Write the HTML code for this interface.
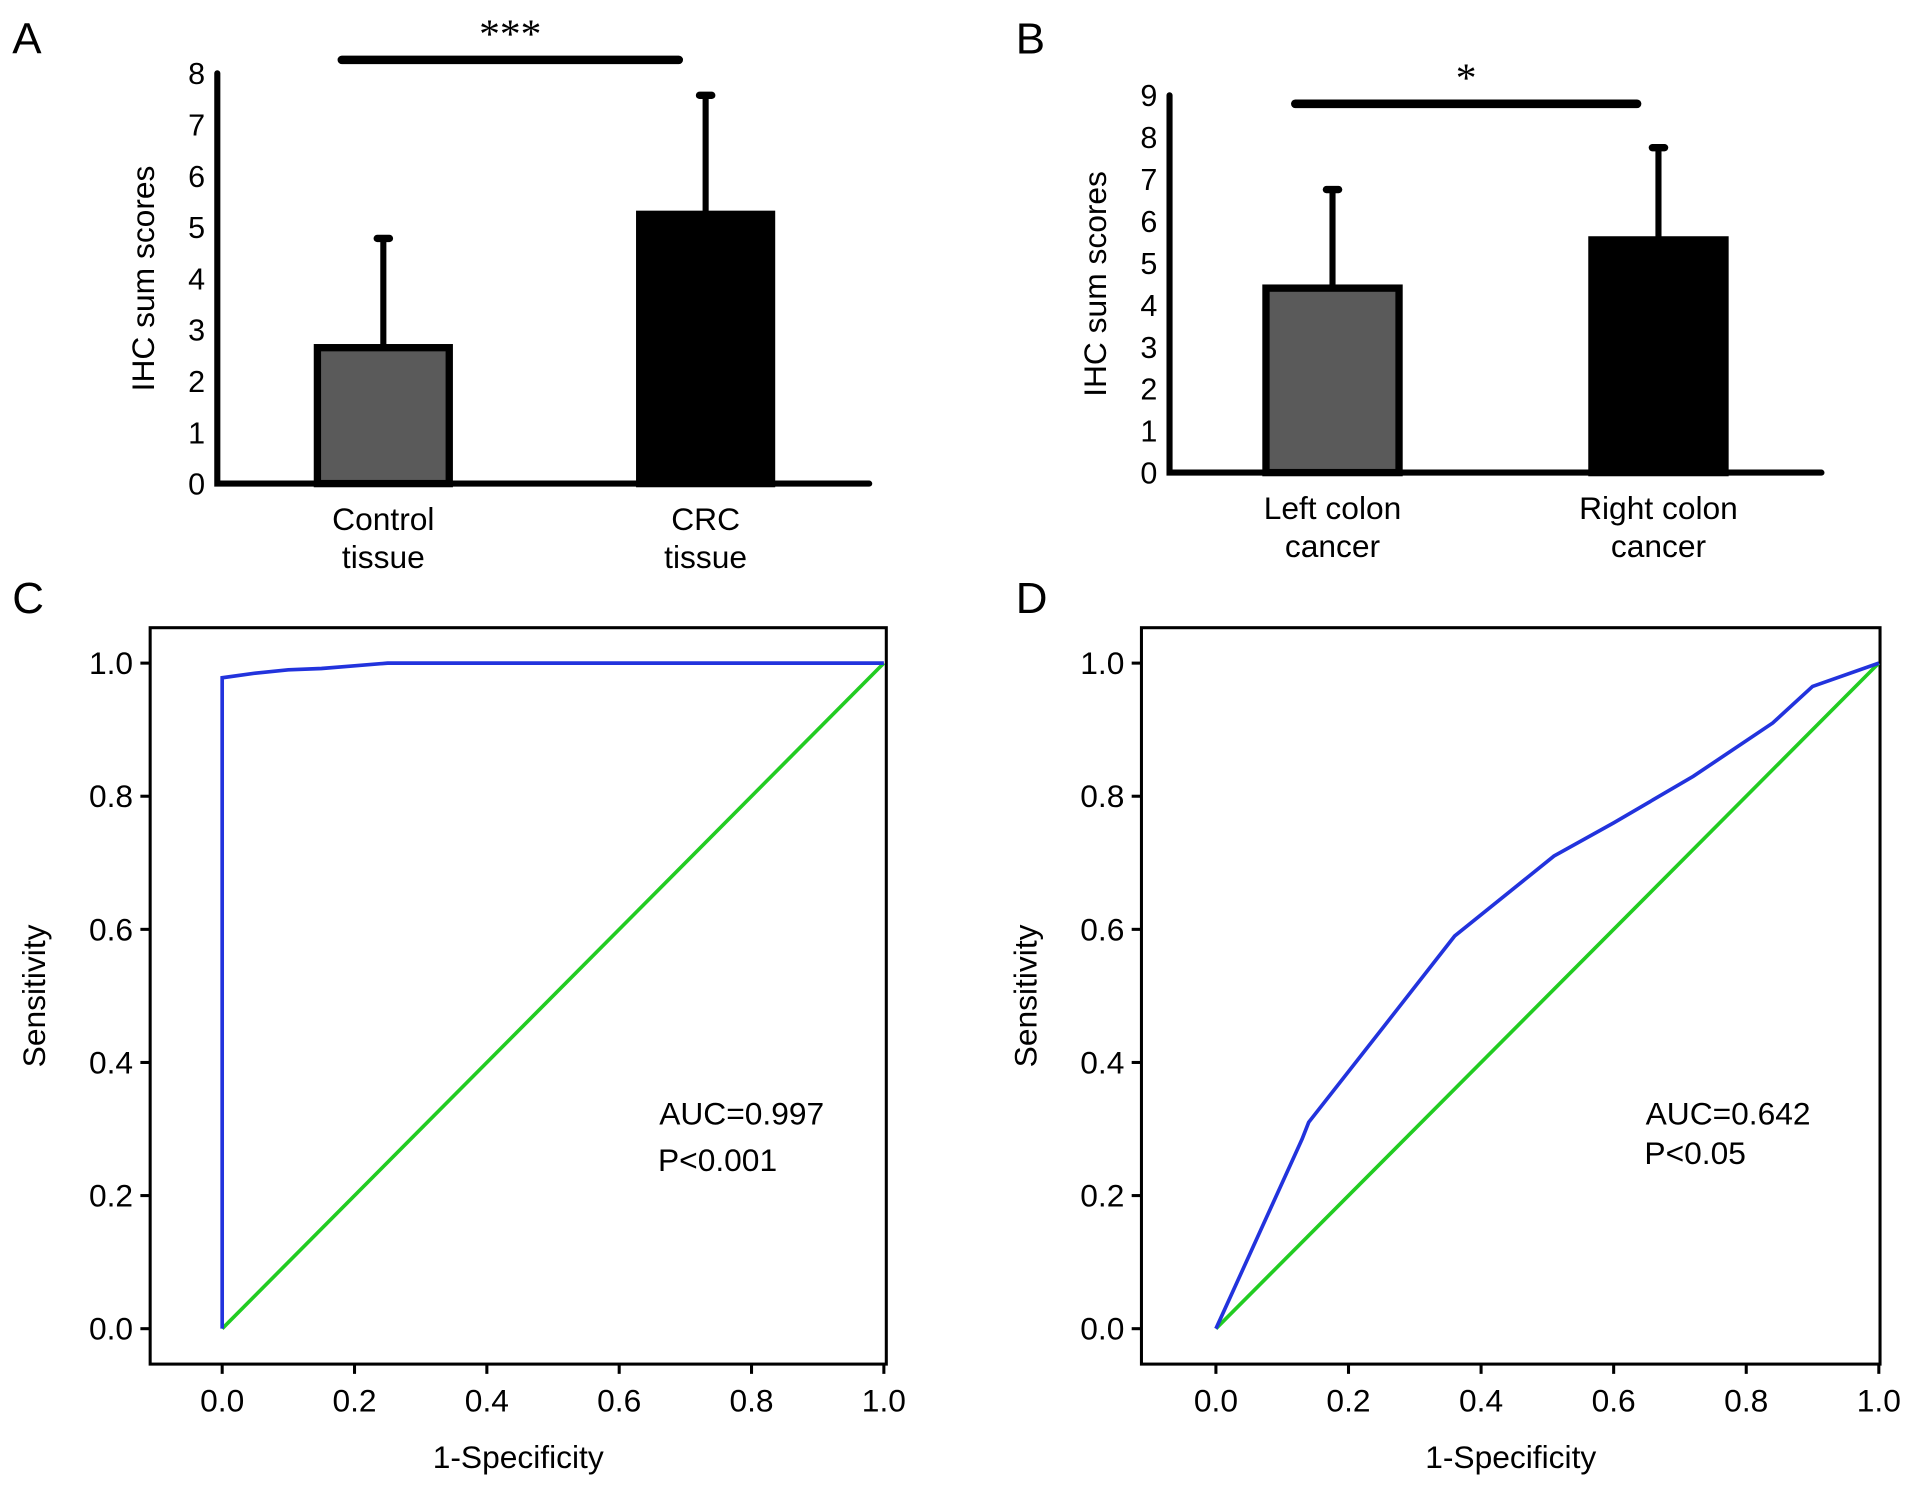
<!DOCTYPE html>
<html><head><meta charset="utf-8"><style>
html,body{margin:0;padding:0;background:#fff;}
svg{display:block;font-family:"Liberation Sans",Arial,sans-serif;}
</style></head><body>
<svg id="fig" width="1913" height="1485" viewBox="0 0 1567 1216" preserveAspectRatio="none" xmlns="http://www.w3.org/2000/svg">
<rect width="1567" height="1216" fill="#fff"/>
<g id="pA"></g>
<g id="pB"></g>
<g id="pC"></g>
<g id="pD"></g>
</svg>
<script>
// Panel A data
const aCats = ["Control|tissue", "CRC|tissue"];
const aMeans = [2.65, 5.25];
const aErr = [2.13, 2.32];
const aTicks = [0,1,2,3,4,5,6,7,8];
// Panel B data
const bCats = ["Left colon|cancer", "Right colon|cancer"];
const bMeans = [4.4, 5.55];
const bErr = [2.35, 2.2];
const bTicks = [0,1,2,3,4,5,6,7,8,9];
// Panel C ROC
const cFpr = [0, 0, 0.05, 0.1, 0.15, 0.2, 0.25, 1];
const cTpr = [0, 0.978, 0.985, 0.99, 0.992, 0.996, 1, 1];
// Panel D ROC
const dFpr = [0, 0.13, 0.14, 0.25, 0.36, 0.51, 0.6, 0.72, 0.84, 0.9, 1];
const dTpr = [0, 0.285, 0.31, 0.45, 0.59, 0.71, 0.76, 0.83, 0.91, 0.965, 1];
const rocTicks = [0, 0.2, 0.4, 0.6, 0.8, 1.0];

const NS = "http://www.w3.org/2000/svg";
function mk(parent, tag, attrs, text){
  const e = document.createElementNS(NS, tag);
  for (const k in attrs) e.setAttribute(k, attrs[k]);
  if (text !== undefined) e.textContent = text;
  parent.appendChild(e);
  return e;
}

function barPanel(g, o){
  const y = v => o.y0 - (v / o.max) * (o.y0 - o.yTop);
  let t = mk(g,"text",{x:o.lx,y:o.ly,"font-size":36});
  t.textContent = o.letter;
  
  
  o.ticks.forEach(v=>{
    const tl = mk(g,"text",{x:o.ax-10,y:y(v)+9,"font-size":25,"text-anchor":"end"}, String(v));
    
    
  });
  const yt = mk(g,"text",{transform:`translate(${o.ax-52},${(o.y0+o.yTop)/2}) rotate(-90)`,"font-size":26,"text-anchor":"middle"},"IHC sum scores");
  
  
  o.means.forEach((m,i)=>{
    const x0 = o.bx[i], w = o.bw;
    const top = y(m), et = y(m + o.err[i]);
    const el = mk(g,"line",{x1:x0+w/2,x2:x0+w/2,y1:top,y2:et,stroke:"#000","stroke-width":5});
    
    
    const cap = mk(g,"line",{x1:x0+w/2-5,x2:x0+w/2+5,y1:et,y2:et,stroke:"#000","stroke-width":6,"stroke-linecap":"round"});
    
    
    const r = mk(g,"rect",{x:x0,y:top,width:w,height:o.y0-top,fill:i===0?"#5a5a5a":"#000",stroke:"#000","stroke-width":6});
    
    
    o.cats[i].split("|").forEach((ln,j)=>{
      const c = mk(g,"text",{x:x0+w/2,y:o.y0+38+j*31,"font-size":26,"text-anchor":"middle"},ln);
      
      
    });
  });
  const ax = mk(g,"path",{d:`M${o.ax},${o.yTop} V${o.y0} H${o.axEnd}`,fill:"none",stroke:"#000","stroke-width":5,"stroke-linecap":"round"});
  
  
  const sl = mk(g,"line",{x1:o.sig[0],x2:o.sig[1],y1:o.sig[2],y2:o.sig[2],stroke:"#000","stroke-width":7,"stroke-linecap":"round"});
  
  
  const st = mk(g,"text",{x:(o.sig[0]+o.sig[1])/2,y:o.sig[2]-10,"font-size":34,"text-anchor":"middle","font-family":"Liberation Serif, serif"},o.star);
  
  
}

barPanel(document.getElementById("pA"),{letter:"A",lx:10,ly:44,ax:178,y0:396,yTop:60,max:8,ticks:aTicks,axEnd:712,
  means:aMeans,err:aErr,cats:aCats,bx:[260,524],bw:108,sig:[280,556,49],star:"***"});
barPanel(document.getElementById("pB"),{letter:"B",lx:832,ly:44,ax:958,y0:387,yTop:78,max:9,ticks:bTicks,axEnd:1492,
  means:bMeans,err:bErr,cats:bCats,bx:[1037,1304],bw:109,sig:[1061,1341,85],star:"*"});

function rocPanel(g, o){
  const x = v => o.x0 + v*(o.x1 - o.x0);
  const y = v => o.y0 - v*(o.y0 - o.y1);
  let t = mk(g,"text",{x:o.lx,y:o.ly,"font-size":36},o.letter);
  
  
  const fr = mk(g,"rect",{x:o.fx0,y:o.fy0,width:o.fx1-o.fx0,height:o.fy1-o.fy0,fill:"none",stroke:"#000","stroke-width":2.5});
  
  
  rocTicks.forEach(v=>{
    const tx = mk(g,"line",{x1:x(v),x2:x(v),y1:o.fy1,y2:o.fy1+8,stroke:"#000","stroke-width":2.5});
    
    
    const lx = mk(g,"text",{x:x(v),y:o.fy1+39,"font-size":26,"text-anchor":"middle"},v.toFixed(1));
    
    
    const ty = mk(g,"line",{x1:o.fx0-8,x2:o.fx0,y1:y(v),y2:y(v),stroke:"#000","stroke-width":2.5});
    
    
    const ly = mk(g,"text",{x:o.fx0-14,y:y(v)+9,"font-size":26,"text-anchor":"end"},v.toFixed(1));
    
    
  });
  const xt = mk(g,"text",{x:(o.fx0+o.fx1)/2,y:o.fy1+85,"font-size":26,"text-anchor":"middle"},"1-Specificity");
  
  
  const yt = mk(g,"text",{transform:`translate(${o.fx0-86},${(o.fy0+o.fy1)/2}) rotate(-90)`,"font-size":26,"text-anchor":"middle"},"Sensitivity");
  
  
  const ref = mk(g,"line",{x1:x(0),y1:y(0),x2:x(1),y2:y(1),stroke:"#22cc22","stroke-width":3});
  
  
  const pts = o.fpr.map((f,i)=>x(f).toFixed(1)+","+y(o.tpr[i]).toFixed(1)).join(" ");
  const roc = mk(g,"polyline",{points:pts,fill:"none",stroke:"#2233dd","stroke-width":3});
  
  
  const a = mk(g,"text",{x:o.tx,y:o.ty,"font-size":26},o.auc);
  
  
  const p = mk(g,"text",{x:o.tx-1,y:o.ty+o.pdy,"font-size":26},o.p);
  
  
}

rocPanel(document.getElementById("pC"),{letter:"C",lx:10,ly:502,fx0:123,fx1:726,fy0:514,fy1:1117,x0:182,x1:724,y0:1088,y1:543,
  fpr:cFpr,tpr:cTpr,tx:540,ty:921,pdy:38,auc:"AUC=0.997",p:"P<0.001"});
rocPanel(document.getElementById("pD"),{letter:"D",lx:832,ly:502,fx0:935,fx1:1540,fy0:514,fy1:1117,x0:996,x1:1539,y0:1088,y1:543,
  fpr:dFpr,tpr:dTpr,tx:1348,ty:921,pdy:32,auc:"AUC=0.642",p:"P<0.05"});
</script>
</body></html>
